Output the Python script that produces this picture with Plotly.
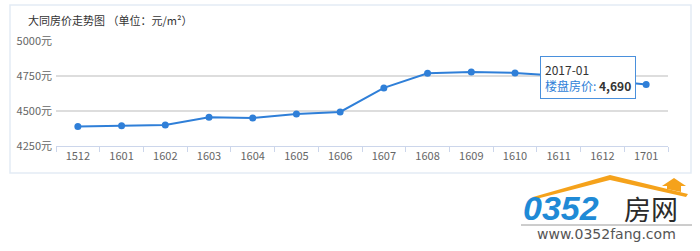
import plotly.graph_objects as go

months = ["1512", "1601", "1602", "1603", "1604", "1605", "1606",
          "1607", "1608", "1609", "1610", "1611", "1612", "1701"]
prices = [4390, 4395, 4400, 4455, 4450, 4478, 4493,
          4665, 4770, 4778, 4772, 4752, 4722, 4690]
y_ticks = [4250, 4500, 4750, 5000]
y_labels = [f"{v}元" for v in y_ticks]
title_text = "大同房价走势图 （单位：元/m²）"
tip_date = "2017-01"
tip_label = "楼盘房价: "

W, H = 700, 251
L, R, T, B = 56, 32, 41, 105
pw = W - L - R
ph = H - T - B

def px(x):
    return (x - L) / pw

def py(y):
    return (H - B - y) / ph

fig = go.Figure()
fig.add_trace(go.Scatter(
    x=months, y=prices, mode="lines+markers",
    line=dict(color="#2f7fd8", width=2),
    marker=dict(color="#2f7fd8", size=7),
    hoverinfo="skip",
))

shapes = [
    dict(type="rect", xref="paper", yref="paper",
         x0=px(10), x1=px(691), y0=py(173), y1=py(5),
         line=dict(color="#e3ebf5", width=1.5), fillcolor="rgba(0,0,0,0)", layer="below"),
    dict(type="path", xref="paper", yref="paper",
         path=f"M {px(533)} {py(197)} L {px(610)} {py(175)} L {px(688)} {py(194)} L {px(686)} {py(197)} L {px(610)} {py(180)} L {px(536)} {py(199)} Z",
         fillcolor="#f5a21b", line=dict(width=0)),
    dict(type="path", xref="paper", yref="paper",
         path=f"M {px(662)} {py(186)} L {px(674)} {py(178)} L {px(686)} {py(186)} L {px(681)} {py(186)} L {px(681)} {py(192)} L {px(667)} {py(189)} L {px(667)} {py(186)} Z",
         fillcolor="#f5a21b", line=dict(width=0)),
    dict(type="line", xref="paper", yref="paper",
         x0=px(521), x1=px(692), y0=py(225), y1=py(225),
         line=dict(color="#9a9a9a", width=1)),
]

annotations = [
    dict(text=title_text, xref="paper", yref="paper",
         x=px(26), y=py(20), xanchor="left", yanchor="middle", showarrow=False,
         font=dict(size=11, color="#333333", family="Noto Sans CJK SC")),
    dict(text=f"{tip_date}<br><span style='color:#2f7fd8'>{tip_label}</span><b>{prices[-1]:,}</b>",
         x=len(months) - 1, y=prices[-1], xref="x", yref="y",
         xanchor="right", yanchor="middle", xshift=-10, yshift=7,
         showarrow=False, align="left", bgcolor="white",
         bordercolor="#4a90dc", borderwidth=1, borderpad=4,
         font=dict(size=12, color="#333333", family="Noto Sans CJK SC")),
    dict(text="<b><i>0352</i></b>", xref="paper", yref="paper",
         x=px(521), y=py(208), xanchor="left", yanchor="middle", showarrow=False,
         font=dict(size=34, color="#1f8ad6", family="Liberation Sans")),
    dict(text="房网", xref="paper", yref="paper",
         x=px(622), y=py(208), xanchor="left", yanchor="middle", showarrow=False,
         font=dict(size=27, color="#2b2b2b", family="Noto Sans CJK SC")),
    dict(text="www.0352fang.com", xref="paper", yref="paper",
         x=px(606), y=py(234), xanchor="center", yanchor="middle", showarrow=False,
         font=dict(size=14, color="#555555", family="DejaVu Sans")),
]

fig.update_layout(
    width=W, height=H,
    margin=dict(l=L, r=R, t=T, b=B),
    paper_bgcolor="white", plot_bgcolor="white",
    showlegend=False,
    shapes=shapes, annotations=annotations,
    font=dict(family="Noto Sans CJK SC", size=11, color="#666666"),
    xaxis=dict(
        type="category", range=[-0.5, len(months) - 0.5],
        showgrid=False, zeroline=False,
        showline=True, linecolor="#ccd6eb", linewidth=1,
        ticks="outside", ticklen=5, tickcolor="#ccd6eb", tickson="boundaries",
        tickfont=dict(size=11, color="#666666"),
        fixedrange=True,
    ),
    yaxis=dict(
        range=[4250, 5000], tickvals=y_ticks, ticktext=y_labels,
        showgrid=True, gridcolor="#dddddd", gridwidth=1.5,
        zeroline=False, showline=False,
        tickfont=dict(size=11, color="#666666"),
        ticks="", ticklabelstandoff=3,
        fixedrange=True,
    ),
)

fig.write_html("out.html")
